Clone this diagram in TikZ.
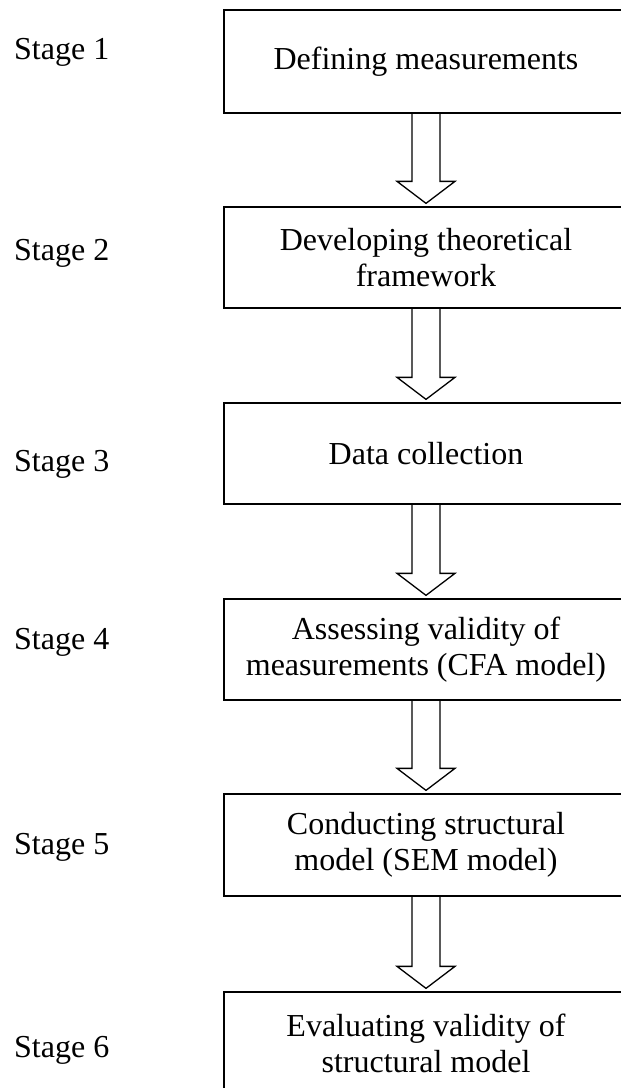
\documentclass[tikz,border=0pt]{standalone}
\usepackage{fontspec}
\setmainfont{Liberation Serif}
\usetikzlibrary{calc}
\tikzset{
  stagebox/.style={draw, line width=1.3pt, minimum width=404pt, inner sep=0pt,
    align=center, font=\fontsize{32}{36}\selectfont},
  stagelabel/.style={anchor=base west, inner sep=0pt, font=\fontsize{32}{36}\selectfont},
  flowarrow/.style={draw, line width=1.3pt, line join=miter},
}
\begin{document}
\begin{tikzpicture}[x=1pt,y=-1pt]
\useasboundingbox (0,0) rectangle (621,1088);
\clip (0,0) rectangle (621,1088);

% stage boxes (y grows downwards)
\node[stagebox, minimum height=103pt] (b1) at (426,61.5)  {Defining measurements};
\node[stagebox, minimum height=101pt] (b2) at (426,257.5) {Developing theoretical\\framework};
\node[stagebox, minimum height=101pt] (b3) at (426,453.5) {Data collection};
\node[stagebox, minimum height=101pt] (b4) at (426,649.5) {Assessing validity of\\measurements (CFA model)};
\node[stagebox, minimum height=102pt] (b5) at (426,845)   {Conducting structural\\model (SEM model)};
\node[stagebox, minimum height=102pt] (b6) at (426,1043)  {Evaluating validity of\\structural model};

% stage labels
\node[stagelabel] (s1) at (14,59)   {Stage 1};
\node[stagelabel] (s2) at (14,260)  {Stage 2};
\node[stagelabel] (s3) at (14,471)  {Stage 3};
\node[stagelabel] (s4) at (14,649)  {Stage 4};
\node[stagelabel] (s5) at (14,854)  {Stage 5};
\node[stagelabel] (s6) at (14,1057) {Stage 6};

% hollow block arrows between consecutive stages
\foreach \a/\b in {b1/b2,b2/b3,b3/b4,b4/b5,b5/b6}{
  \draw[flowarrow] ($(\a.south)+(-14,0)$) -- ($(\b.north)+(-14,-25)$)
    -- ($(\b.north)+(-29,-25)$) -- ($(\b.north)+(0,-3)$)
    -- ($(\b.north)+(29,-25)$) -- ($(\b.north)+(14,-25)$)
    -- ($(\a.south)+(14,0)$);
}
\end{tikzpicture}
\end{document}
